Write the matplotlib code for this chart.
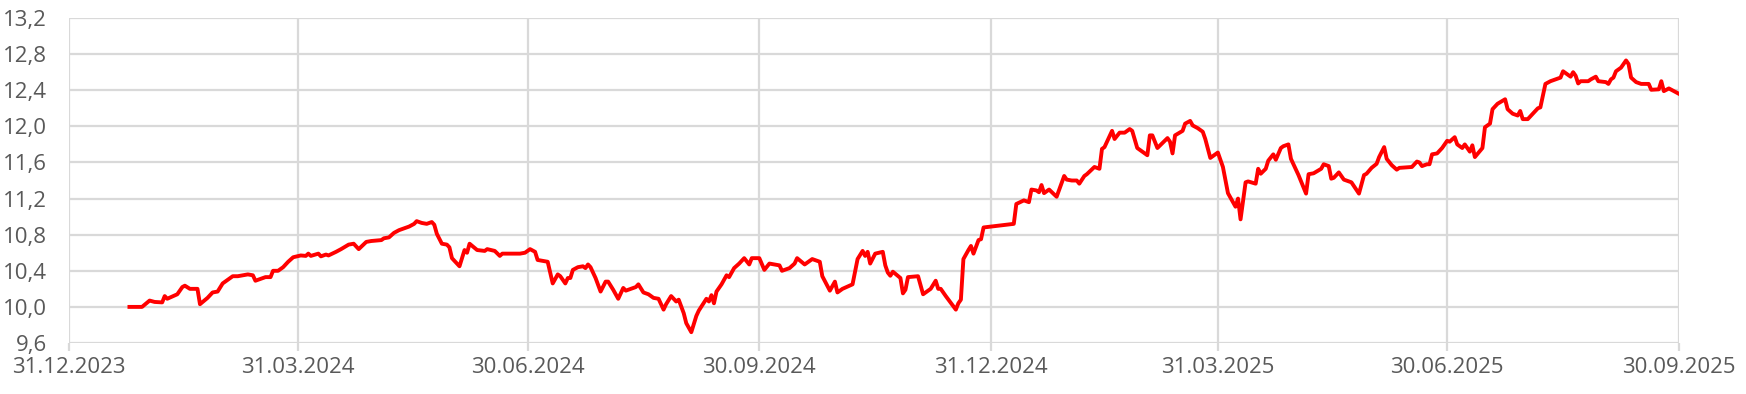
import matplotlib
matplotlib.use('Agg')
import matplotlib.pyplot as pp
import pandas as pd

from matplotlib.dates import DateFormatter
from matplotlib.ticker import FuncFormatter, MultipleLocator


line_red   = '#ff0000'
grid_grey  = '#d9d9d9'
label_grey = '#595959'

# Values (date, price)
dates = [
    '2024-01-24', '2024-01-29', '2024-02-01', '2024-02-03', '2024-02-06', '2024-02-07',
    '2024-02-08', '2024-02-12', '2024-02-14', '2024-02-15', '2024-02-17', '2024-02-20',
    '2024-02-21', '2024-02-24', '2024-02-26', '2024-02-28', '2024-03-01', '2024-03-05',
    '2024-03-07', '2024-03-11', '2024-03-13', '2024-03-14', '2024-03-18', '2024-03-20',
    '2024-03-21', '2024-03-23', '2024-03-25', '2024-03-27', '2024-03-29', '2024-04-01',
    '2024-04-03', '2024-04-04', '2024-04-05', '2024-04-08', '2024-04-09', '2024-04-11',
    '2024-04-12', '2024-04-15', '2024-04-17', '2024-04-20', '2024-04-22', '2024-04-24',
    '2024-04-27', '2024-04-29', '2024-05-03', '2024-05-04', '2024-05-06', '2024-05-08',
    '2024-05-10', '2024-05-14', '2024-05-16', '2024-05-17', '2024-05-19', '2024-05-21',
    '2024-05-23', '2024-05-24', '2024-05-25', '2024-05-27', '2024-05-29', '2024-05-30',
    '2024-05-31', '2024-06-02', '2024-06-03', '2024-06-05', '2024-06-06', '2024-06-07',
    '2024-06-10', '2024-06-13', '2024-06-14', '2024-06-17', '2024-06-19', '2024-06-20',
    '2024-06-23', '2024-06-25', '2024-06-27', '2024-06-29', '2024-07-01', '2024-07-03',
    '2024-07-04', '2024-07-08', '2024-07-10', '2024-07-12', '2024-07-13', '2024-07-15',
    '2024-07-16', '2024-07-17', '2024-07-18', '2024-07-20', '2024-07-22', '2024-07-23',
    '2024-07-24', '2024-07-25', '2024-07-27', '2024-07-29', '2024-07-31', '2024-08-01',
    '2024-08-03', '2024-08-05', '2024-08-07', '2024-08-08', '2024-08-10', '2024-08-12',
    '2024-08-13', '2024-08-15', '2024-08-17', '2024-08-19', '2024-08-21', '2024-08-23',
    '2024-08-24', '2024-08-26', '2024-08-28', '2024-08-29', '2024-08-31', '2024-09-01',
    '2024-09-03', '2024-09-05', '2024-09-06', '2024-09-09', '2024-09-10', '2024-09-11',
    '2024-09-12', '2024-09-13', '2024-09-15', '2024-09-17', '2024-09-18', '2024-09-20',
    '2024-09-22', '2024-09-24', '2024-09-26', '2024-09-27', '2024-09-30', '2024-10-02',
    '2024-10-04', '2024-10-08', '2024-10-09', '2024-10-12', '2024-10-14', '2024-10-15',
    '2024-10-18', '2024-10-21', '2024-10-24', '2024-10-25', '2024-10-28', '2024-10-30',
    '2024-10-31', '2024-11-02', '2024-11-06', '2024-11-08', '2024-11-10', '2024-11-11',
    '2024-11-12', '2024-11-13', '2024-11-15', '2024-11-18', '2024-11-19', '2024-11-20',
    '2024-11-21', '2024-11-22', '2024-11-25', '2024-11-26', '2024-11-27', '2024-11-28',
    '2024-12-02', '2024-12-04', '2024-12-07', '2024-12-09', '2024-12-10', '2024-12-11',
    '2024-12-13', '2024-12-17', '2024-12-18', '2024-12-19', '2024-12-20', '2024-12-22',
    '2024-12-23', '2024-12-24', '2024-12-26', '2024-12-27', '2024-12-28', '2025-01-09',
    '2025-01-10', '2025-01-13', '2025-01-14', '2025-01-15', '2025-01-16', '2025-01-18',
    '2025-01-19', '2025-01-20', '2025-01-21', '2025-01-23', '2025-01-26', '2025-01-29',
    '2025-01-30', '2025-02-01', '2025-02-03', '2025-02-04', '2025-02-06', '2025-02-07',
    '2025-02-10', '2025-02-12', '2025-02-13', '2025-02-14', '2025-02-17', '2025-02-18',
    '2025-02-20', '2025-02-22', '2025-02-24', '2025-02-25', '2025-02-27', '2025-03-01',
    '2025-03-03', '2025-03-04', '2025-03-05', '2025-03-07', '2025-03-11', '2025-03-12',
    '2025-03-13', '2025-03-14', '2025-03-17', '2025-03-18', '2025-03-20', '2025-03-21',
    '2025-03-23', '2025-03-25', '2025-03-26', '2025-03-28', '2025-03-29', '2025-03-31',
    '2025-04-02', '2025-04-04', '2025-04-06', '2025-04-07', '2025-04-08', '2025-04-09',
    '2025-04-11', '2025-04-12', '2025-04-15', '2025-04-16', '2025-04-17', '2025-04-19',
    '2025-04-20', '2025-04-22', '2025-04-23', '2025-04-25', '2025-04-26', '2025-04-28',
    '2025-04-29', '2025-05-02', '2025-05-05', '2025-05-06', '2025-05-08', '2025-05-11',
    '2025-05-12', '2025-05-14', '2025-05-15', '2025-05-16', '2025-05-18', '2025-05-20',
    '2025-05-22', '2025-05-23', '2025-05-26', '2025-05-28', '2025-05-29', '2025-05-31',
    '2025-06-02', '2025-06-03', '2025-06-05', '2025-06-06', '2025-06-08', '2025-06-10',
    '2025-06-11', '2025-06-16', '2025-06-18', '2025-06-19', '2025-06-20', '2025-06-22',
    '2025-06-23', '2025-06-24', '2025-06-26', '2025-06-28', '2025-06-30', '2025-07-01',
    '2025-07-03', '2025-07-04', '2025-07-06', '2025-07-07', '2025-07-09', '2025-07-10',
    '2025-07-11', '2025-07-14', '2025-07-15', '2025-07-17', '2025-07-18', '2025-07-20',
    '2025-07-23', '2025-07-24', '2025-07-26', '2025-07-28', '2025-07-29', '2025-07-30',
    '2025-08-01', '2025-08-03', '2025-08-05', '2025-08-06', '2025-08-08', '2025-08-10',
    '2025-08-12', '2025-08-14', '2025-08-15', '2025-08-18', '2025-08-19', '2025-08-20',
    '2025-08-21', '2025-08-22', '2025-08-25', '2025-08-26', '2025-08-28', '2025-08-29',
    '2025-09-01', '2025-09-02', '2025-09-03', '2025-09-04', '2025-09-05', '2025-09-07',
    '2025-09-09', '2025-09-10', '2025-09-11', '2025-09-13', '2025-09-15', '2025-09-18',
    '2025-09-19', '2025-09-22', '2025-09-23', '2025-09-24', '2025-09-26', '2025-09-28',
    '2025-09-30',
]

values = [
    10.00, 10.00, 10.07, 10.055, 10.05, 10.12,
    10.09, 10.14, 10.22, 10.235, 10.20, 10.20,
    10.03, 10.10, 10.16, 10.17, 10.26, 10.34,
    10.34, 10.36, 10.35, 10.29, 10.33, 10.33,
    10.40, 10.40, 10.44, 10.50, 10.55, 10.57,
    10.565, 10.59, 10.565, 10.59, 10.56, 10.58,
    10.57, 10.61, 10.64, 10.69, 10.70, 10.64,
    10.72, 10.73, 10.74, 10.76, 10.77, 10.82,
    10.85, 10.89, 10.92, 10.95, 10.93, 10.92,
    10.94, 10.91, 10.81, 10.70, 10.69, 10.66,
    10.54, 10.48, 10.45, 10.63, 10.60, 10.70,
    10.63, 10.62, 10.64, 10.62, 10.565, 10.59,
    10.59, 10.59, 10.59, 10.60, 10.64, 10.61,
    10.52, 10.50, 10.26, 10.36, 10.34, 10.26,
    10.32, 10.32, 10.41, 10.44, 10.45, 10.43,
    10.47, 10.44, 10.32, 10.17, 10.28, 10.28,
    10.19, 10.09, 10.21, 10.18, 10.20, 10.22,
    10.25, 10.16, 10.14, 10.10, 10.09, 9.97,
    10.03, 10.12, 10.06, 10.08, 9.93, 9.82,
    9.72, 9.90, 9.96, 10.09, 10.06, 10.13,
    10.04, 10.17, 10.25, 10.35, 10.33, 10.43,
    10.48, 10.54, 10.47, 10.54, 10.54, 10.41,
    10.48, 10.46, 10.40, 10.43, 10.48, 10.54,
    10.47, 10.53, 10.50, 10.34, 10.18, 10.28,
    10.16, 10.20, 10.25, 10.53, 10.62, 10.565,
    10.61, 10.48, 10.59, 10.61, 10.46, 10.38,
    10.345, 10.39, 10.32, 10.15, 10.19, 10.33,
    10.34, 10.14, 10.20, 10.29, 10.20, 10.20,
    10.12, 9.97, 10.04, 10.08, 10.53, 10.63,
    10.675, 10.59, 10.74, 10.75, 10.88, 10.92,
    11.14, 11.18, 11.17, 11.16, 11.30, 11.29,
    11.27, 11.35, 11.26, 11.30, 11.22, 11.45,
    11.41, 11.40, 11.40, 11.365, 11.45, 11.47,
    11.55, 11.53, 11.75, 11.77, 11.95, 11.86,
    11.93, 11.93, 11.97, 11.95, 11.76, 11.72,
    11.68, 11.90, 11.90, 11.76, 11.87, 11.83,
    11.70, 11.90, 11.95, 12.03, 12.06, 12.01,
    11.98, 11.94, 11.86, 11.65, 11.67, 11.71,
    11.55, 11.26, 11.16, 11.11, 11.20, 10.97,
    11.38, 11.39, 11.365, 11.53, 11.475, 11.53,
    11.62, 11.69, 11.63, 11.76, 11.78, 11.80,
    11.64, 11.46, 11.255, 11.47, 11.48, 11.53,
    11.58, 11.56, 11.42, 11.43, 11.49, 11.41,
    11.39, 11.38, 11.255, 11.46, 11.475, 11.54,
    11.585, 11.66, 11.77, 11.64, 11.57, 11.52,
    11.54, 11.55, 11.61, 11.60, 11.56, 11.58,
    11.58, 11.69, 11.70, 11.76, 11.84, 11.83,
    11.88, 11.80, 11.76, 11.80, 11.72, 11.79,
    11.66, 11.76, 11.99, 12.03, 12.19, 12.25,
    12.30, 12.19, 12.14, 12.12, 12.17, 12.08,
    12.08, 12.14, 12.20, 12.21, 12.47, 12.50,
    12.52, 12.54, 12.61, 12.55, 12.60, 12.56,
    12.475, 12.50, 12.50, 12.52, 12.55, 12.50,
    12.49, 12.47, 12.52, 12.54, 12.61, 12.65,
    12.73, 12.69, 12.54, 12.49, 12.47, 12.47,
    12.405, 12.41, 12.50, 12.39, 12.42, 12.39,
    12.36,
]

# Quarter-end ticks on the x-axis
quarter_ends = [
    '2023-12-31', '2024-03-31', '2024-06-30', '2024-09-30',
    '2024-12-31', '2025-03-31', '2025-06-30', '2025-09-30',
]


def decimal_comma(value, pos):
    return f'{value:.1f}'.replace('.', ',')


def make_plot():
    pp.rcParams['font.family'] = ['Open Sans', 'DejaVu Sans']

    series = pd.Series(values, index=pd.to_datetime(dates))
    ticks = pd.to_datetime(quarter_ends)

    fig = pp.figure(figsize=(17.46, 3.94), dpi=100)
    ax = fig.add_axes([0.0395, 0.1294, 0.9221, 0.8249])

    ax.plot(series.index, series.values, color=line_red, lw=2.8, zorder=3)

    # x-axis
    ax.set_xlim(ticks[0], ticks[-1])
    ax.set_xticks(ticks)
    ax.xaxis.set_major_formatter(DateFormatter('%d.%m.%Y'))

    # y-axis
    ax.set_ylim(9.6, 13.2)
    ax.yaxis.set_major_locator(MultipleLocator(0.4))
    ax.yaxis.set_major_formatter(FuncFormatter(decimal_comma))

    ax.grid(True, color=grid_grey, lw=1.6, zorder=0)
    ax.set_axisbelow(True)
    for spine in ax.spines.values():
        spine.set_visible(False)

    ax.tick_params(axis='x', length=6, width=1.6, color=grid_grey,
                   labelcolor=label_grey, labelsize=16, pad=4)
    ax.tick_params(axis='y', length=0, labelcolor=label_grey,
                   labelsize=16, pad=16)

    fig.savefig('out.png', dpi=100)


if __name__ == '__main__':
    make_plot()
